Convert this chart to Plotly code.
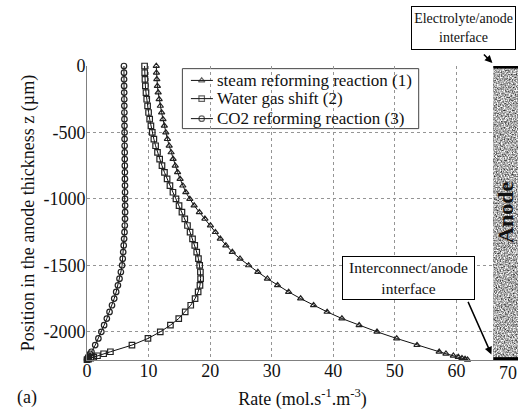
import base64
import plotly.graph_objects as go

# ---- data ----
z_um = [0, -50, -100, -150, -200, -250, -300, -350, -400, -450,
        -500, -550, -600, -650, -700, -750, -800, -850, -900, -950,
        -1000, -1050, -1100, -1150, -1200, -1250, -1300, -1350, -1400, -1450,
        -1500, -1550, -1600, -1650, -1700, -1750, -1800, -1850, -1900, -1950,
        -2000, -2050, -2100, -2150, -2165, -2180, -2190, -2198, -2205, -2210]

steam_reforming = [11.25, 11.28, 11.34, 11.43, 11.56, 11.72, 11.91, 12.12, 12.34, 12.56,
                   12.80, 13.06, 13.35, 13.66, 13.98, 14.33, 14.71, 15.12, 15.56, 16.05,
                   16.70, 17.40, 18.25, 19.15, 20.05, 20.85, 21.65, 22.55, 23.60, 24.85,
                   26.25, 27.75, 29.30, 30.95, 32.75, 34.70, 36.80, 39.00, 41.40, 44.20,
                   47.10, 50.30, 53.60, 57.20, 58.30, 59.50, 60.30, 60.90, 61.40, 61.80]

water_gas_shift = [9.35, 9.37, 9.41, 9.48, 9.58, 9.70, 9.84, 10.00, 10.18, 10.38,
                   10.60, 10.86, 11.14, 11.45, 11.80, 12.18, 12.58, 13.01, 13.47, 13.96,
                   14.45, 14.95, 15.42, 15.88, 16.32, 16.74, 17.14, 17.50, 17.82, 18.10,
                   18.30, 18.42, 18.45, 18.35, 18.05, 17.55, 16.85, 15.95, 14.90, 13.55,
                   11.90, 9.90, 7.30, 3.80, 2.70, 1.70, 1.10, 0.60, 0.25, 0.00]

co2_reforming = [6.00, 6.01, 6.02, 6.03, 6.04, 6.05, 6.06, 6.07, 6.08, 6.09,
                 6.10, 6.10, 6.11, 6.12, 6.13, 6.14, 6.15, 6.16, 6.17, 6.18,
                 6.18, 6.19, 6.19, 6.17, 6.14, 6.09, 6.03, 5.96, 5.88, 5.80,
                 5.70, 5.50, 5.28, 5.02, 4.74, 4.42, 4.06, 3.66, 3.22, 2.78,
                 2.33, 1.85, 1.33, 0.72, 0.50, 0.30, 0.18, 0.09, 0.04, 0.00]

series_names = ["steam reforming reaction (1)", "Water gas shift (2)", "CO2 reforming reaction (3)"]
x_ticks = [0, 10, 20, 30, 40, 50, 60]
x_tick_text = ["0", "10", "20", "30", "40", "50", "60"]
y_ticks = [0, -500, -1000, -1500, -2000]
y_tick_text = ["0", "-500", "-1000", "-1500", "-2000"]
x_range = [0, 70]
y_range = [-2212, 0]
anode_x = [66, 70]

FONT = "Liberation Serif"
INK = "#111111"

fig = go.Figure()
symbols = ["triangle-up-open", "square-open", "circle-open"]
all_series = [steam_reforming, water_gas_shift, co2_reforming]
for name, vals, sym in zip(series_names, all_series, symbols):
    fig.add_trace(go.Scatter(
        x=vals, y=z_um, name=name, mode="lines+markers", showlegend=False,
        line=dict(color=INK, width=1),
        marker=dict(symbol=sym, size=5.5, color="#222222", line=dict(width=1.2, color="#222222")),
        cliponaxis=False,
    ))

# ---- hand-laid legend (MATLAB style, tight rows) on an overlay axis pair ----
leg_x0, leg_x1, leg_y0, leg_y1 = 0.2213, 0.7696, 0.787, 0.991
leg_rows = [0.951, 0.889, 0.821]
sym_x = [0.2411, 0.2661, 0.2921]
for name, sym, ry in zip(series_names, symbols, leg_rows):
    fig.add_trace(go.Scatter(
        x=sym_x, y=[ry] * 3, xaxis="x2", yaxis="y2", mode="lines+markers", showlegend=False,
        line=dict(color=INK, width=1),
        marker=dict(symbol=sym, size=[0, 5.5, 0], color="#222222", line=dict(width=1.2, color="#222222")),
        cliponaxis=False, hoverinfo="skip",
    ))

# anode speckled texture
svg = ("<svg xmlns='http://www.w3.org/2000/svg' width='26' height='294' viewBox='0 0 26 294' preserveAspectRatio='none'>"
       "<filter id='n' x='0' y='0' width='100%' height='100%' color-interpolation-filters='sRGB'>"
       "<feTurbulence type='fractalNoise' baseFrequency='0.7' numOctaves='2' seed='7'/>"
       "<feColorMatrix type='matrix' values='1.5 0 0 0 -0.08 1.5 0 0 0 -0.08 1.5 0 0 0 -0.08 0 0 0 0 1'/>"
       "</filter><rect width='26' height='294' fill='#a8a8a8'/>"
       "<rect width='26' height='294' filter='url(#n)'/></svg>")
src = "data:image/svg+xml;base64," + base64.b64encode(svg.encode()).decode()

shapes = [
    dict(type="rect", xref="x", yref="y", x0=anode_x[0], x1=anode_x[1], y0=y_range[0], y1=y_range[1],
         fillcolor="#a8a8a8", line=dict(width=0), layer="below"),
    dict(type="line", xref="x", yref="y", x0=anode_x[0], x1=anode_x[1], y0=-8, y1=-8,
         line=dict(color="black", width=3)),
    dict(type="line", xref="x", yref="y", x0=anode_x[0], x1=anode_x[1], y0=y_range[0] + 10, y1=y_range[0] + 10,
         line=dict(color="black", width=3)),
    dict(type="rect", xref="paper", yref="paper", x0=leg_x0, x1=leg_x1, y0=leg_y0, y1=leg_y1,
         fillcolor="white", line=dict(color="#444444", width=1), layer="between"),
]

annotations = [
    dict(text="<b>Anode</b>", x=68, y=-1100, xref="x", yref="y", showarrow=False, textangle=-90,
         font=dict(family=FONT, size=22, color=INK)),
    dict(text="Electrolyte/anode<br>interface", x=0.9963, y=1.2031, xref="paper", yref="paper",
         xanchor="right", yanchor="top",
         showarrow=False, bgcolor="white", bordercolor="black", borderwidth=1, borderpad=1,
         width=101, height=40, font=dict(family=FONT, size=14, color=INK)),
    dict(text="", x=0.9406, y=1.0102, xref="paper", yref="paper", showarrow=True, ax=-10, ay=-10,
         arrowhead=2, arrowsize=1, arrowwidth=1.5, arrowcolor="black"),
    dict(text="Interconnect/anode<br>interface", x=0.7448, y=0.2776, xref="paper", yref="paper",
         xanchor="center", yanchor="middle",
         showarrow=False, bgcolor="white", bordercolor="black", borderwidth=1, borderpad=1,
         width=129, height=40, font=dict(family=FONT, size=15.5, color=INK)),
    dict(text="", x=0.9383, y=0.019, xref="paper", yref="paper", showarrow=True, ax=-24, ay=-54,
         arrowhead=2, arrowsize=1, arrowwidth=1.5, arrowcolor="black"),
    dict(text="70", x=68.4, y=0, xref="x", yref="paper", xanchor="center", yanchor="top", yshift=-1,
         showarrow=False, font=dict(family=FONT, size=18, color=INK)),
    dict(text="(a)", x=-0.139, y=-0.129, xref="paper", yref="paper", xanchor="center", yanchor="middle",
         showarrow=False, font=dict(family=FONT, size=18, color=INK)),
]
for name, ry in zip(series_names, leg_rows):
    annotations.append(dict(text=name, x=0.2963, y=ry, xref="paper", yref="paper", xanchor="left",
                            yanchor="middle", showarrow=False, font=dict(family=FONT, size=17, color=INK)))

xaxis_main = dict(range=x_range, tickvals=x_ticks, ticktext=x_tick_text, ticks="",
                  showline=True, linecolor="#808080", automargin=False, ticklabelstandoff=-6,
                  tickfont=dict(family=FONT, size=18, color=INK),
                  linewidth=1, showgrid=True, gridcolor="#959595", griddash="dot", gridwidth=1,
                  zeroline=False,
                  title=dict(text="Rate (mol.s<sup>-1</sup>.m<sup>-3</sup>)", standoff=12,
                             font=dict(family=FONT, size=18, color=INK)))
yaxis_main = dict(range=y_range, tickvals=y_ticks, ticktext=y_tick_text, ticks="",
                  showline=True, linecolor="#808080", automargin=False, ticklabelstandoff=-3,
                  tickfont=dict(family=FONT, size=18, color=INK),
                  linewidth=1, showgrid=True, gridcolor="#959595", griddash="dot", gridwidth=1,
                  zeroline=False,
                  title=dict(text="Position in the anode thickness z (\u00b5m)", standoff=4,
                             font=dict(family=FONT, size=18, color=INK)))

fig.update_layout(
    width=531, height=416,
    margin=dict(l=87, r=13, t=66, b=56),
    paper_bgcolor="white", plot_bgcolor="white",
    font=dict(family=FONT, size=18, color=INK),
    showlegend=False,
    shapes=shapes,
    annotations=annotations,
    images=[dict(source=src, xref="x", yref="y", x=anode_x[0], y=y_range[1],
                 sizex=anode_x[1] - anode_x[0], sizey=y_range[1] - y_range[0],
                 sizing="stretch", layer="above", xanchor="left", yanchor="top")],
    xaxis=xaxis_main,
    yaxis=yaxis_main,
    xaxis2=dict(domain=[0, 1], range=[0, 1], overlaying="x", anchor="y2", visible=False, fixedrange=True),
    yaxis2=dict(domain=[0, 1], range=[0, 1], overlaying="y", anchor="x2", visible=False, fixedrange=True),
)

fig.write_html("out.html", config={"displayModeBar": False},
               post_script="document.body.style.margin='0';document.body.style.padding='0';")
